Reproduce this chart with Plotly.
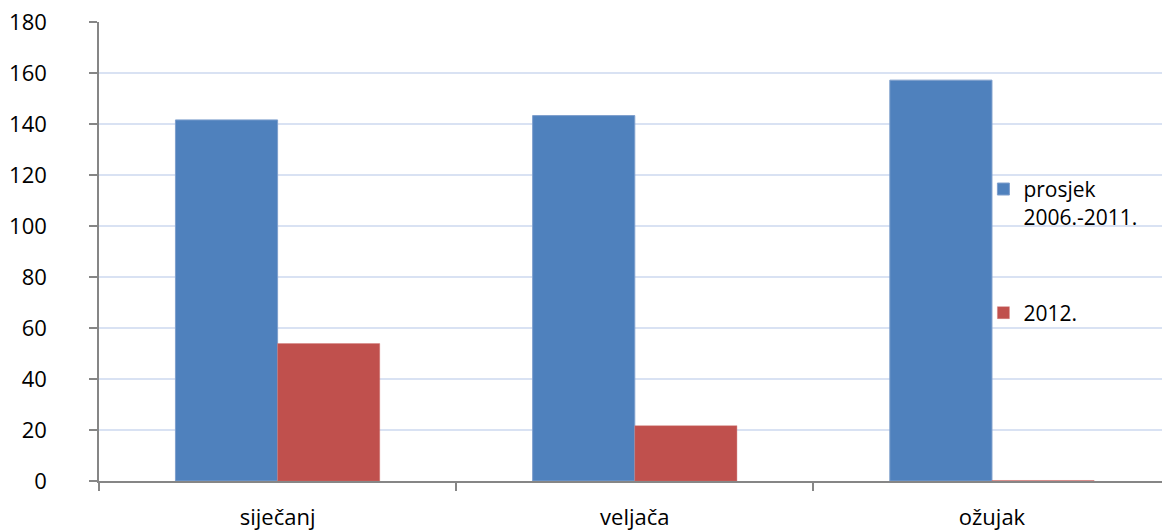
import plotly.graph_objects as go

# Monthly values: six-year average vs. 2012
months = ["siječanj", "veljača", "ožujak"]
avg_2006_2011 = [141.6, 143.3, 157.2]
year_2012 = [53.9, 21.7, 0.2]
series_names = ["prosjek<br>2006.-2011.", "2012."]
y_ticks = [0, 20, 40, 60, 80, 100, 120, 140, 160, 180]

FONT = "Open Sans"
BLUE = "#4F81BD"
RED = "#C0504D"
AXIS = "#868686"
GRID = "#D9E2F3"

fig = go.Figure()
fig.add_trace(go.Bar(
    x=months, y=avg_2006_2011, name=series_names[0],
    marker=dict(color=BLUE, line=dict(color="#7E9FCD", width=1)),
    legendgroup="a",
))
fig.add_trace(go.Bar(
    x=months, y=year_2012, name=series_names[1],
    marker=dict(color=RED, line=dict(color="rgba(210,123,120,0.4)", width=1)),
    legendgroup="b",
))

fig.update_layout(
    width=1162, height=530,
    margin=dict(l=99, r=0, t=22, b=49),
    paper_bgcolor="white", plot_bgcolor="white",
    font=dict(family=FONT, size=22, color="#000000"),
    barmode="group", bargap=0.428, bargroupgap=0,
    showlegend=True,
    legend=dict(
        x=0.832, y=0.68, xanchor="left", yanchor="top",
        bgcolor="rgba(0,0,0,0)", font=dict(family=FONT, size=21),
        valign="top", tracegroupgap=66, traceorder="grouped",
        itemwidth=30,
    ),
)

fig.update_xaxes(
    type="category", range=[-0.5, 2.476],
    showline=True, linecolor=AXIS, linewidth=1.5,
    ticks="outside", tickson="boundaries", ticklen=8, tickcolor=AXIS, tickwidth=1.5,
    showgrid=False, ticklabelstandoff=16,
)
fig.update_yaxes(
    range=[0, 180], tickvals=y_ticks,
    showline=True, linecolor=AXIS, linewidth=1.5,
    ticks="outside", ticklen=8, tickcolor=AXIS, tickwidth=1.5,
    showgrid=True, gridcolor=GRID, gridwidth=2,
    zeroline=False, ticklabelstandoff=38,
)

fig.write_html("out.html")
